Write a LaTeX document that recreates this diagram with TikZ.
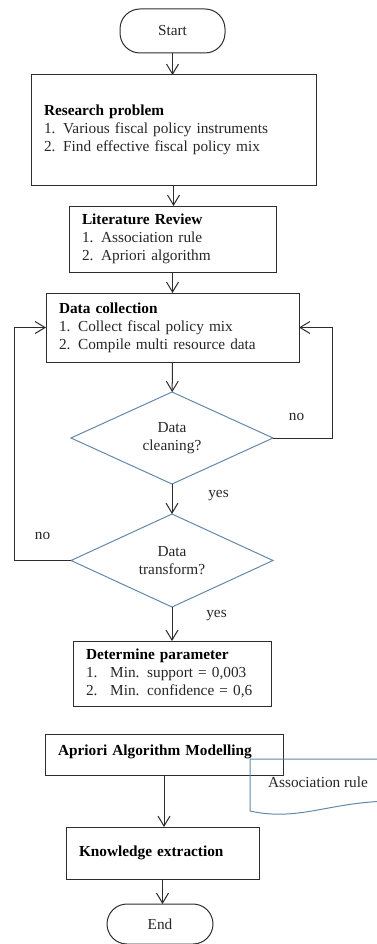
\documentclass[tikz,border=0pt]{standalone}
\usepackage{fontspec}
\setmainfont{Liberation Serif}
\usetikzlibrary{arrows.meta,positioning,shapes.geometric}
\definecolor{LineGray}{RGB}{45,45,45}
\definecolor{SteelBlue}{RGB}{100,136,170}

\begin{document}
\begin{tikzpicture} [x=1pt, y=1pt, >={Straight Barb[length=10pt,width=12pt]},
	   LineGray, text=black!85, line width=1pt,
	   every node/.style={font=\fontsize{15.3}{18}\selectfont, outer sep=0pt},
	   terminal/.style = {rectangle, rounded corners=20pt, draw,
	                      minimum width=105pt, minimum height=44pt},
	   stepbox/.style 2 args = {rectangle, draw, text width=#1, minimum height=#2,
	                            inner xsep=13pt, align=left},
	   decision/.style = {diamond, draw=SteelBlue, aspect=2.2, inner sep=0pt,
	                      minimum width=202pt, minimum height=92pt, align=center}]
	\useasboundingbox (0,0) rectangle (377,-944);
	%% Main steps
	\node [terminal] (start) at (172.5,-31) {Start};
	\node [stepbox={259pt}{110pt}, below=22pt of start, xshift=1pt] (research)
	      {\textbf{\color{black}Research problem}\\1. Various fiscal policy instruments\\2. Find effective fiscal policy mix};
	\node [stepbox={181pt}{66pt}, below=21pt of research, xshift=-1pt] (literature)
	      {\textbf{\color{black}Literature Review}\\1. Association rule\\2. Apriori algorithm};
	\node [stepbox={227pt}{69pt}, below=21pt of literature] (collection)
	      {\textbf{\color{black}Data collection}\\1. Collect fiscal policy mix\\2. Compile multi resource data};
	%% Decisions
	\node [decision, below=30pt of collection, xshift=-0.5pt] (cleaning) {Data\\cleaning?};
	\node [decision, minimum height=93pt, below=30pt of cleaning] (transform) {Data\\transform?};
	\node [stepbox={172pt}{65pt}, below=34pt of transform] (parameter)
	      {\textbf{\color{black}Determine parameter}\\1.~ Min. support = 0,003\\2.~ Min. confidence = 0,6};
	%% Modelling and output
	\node [stepbox={212pt}{41pt}, below=28pt of parameter, xshift=-8pt] (apriori)
	      {\textbf{\color{black}Apriori Algorithm Modelling}\rule[-8pt]{0pt}{8pt}};
	\node [stepbox={167pt}{52pt}, below=52pt of apriori, xshift=-1.5pt] (knowledge)
	      {\textbf{\color{black}Knowledge extraction}};
	\node [terminal, minimum width=106pt, minimum height=40pt, below=25pt of knowledge, xshift=-2.5pt] (end) {End};
	\node (assoc) at (318,-782) {Association rule};
	\begin{scope}
		\clip (0,0) rectangle (377,-944);
		\draw [SteelBlue] (250,-759) -- (395,-759) -- (395,-801)
		      .. controls (330,-801) and (300,-822) .. (250,-811) -- cycle;
	\end{scope}

	%% Simple paths
	\draw[->] (start.south) -- (start.south |- research.north);
	\draw[->] (research.south) -- (research.south |- literature.north);
	\draw[->] (literature) -- (collection);
	\draw[->] (collection) -- (cleaning);
	\draw[->] (cleaning) -- (transform)
	          node[pos=0.4, right=33pt] {yes};
	\draw[->] (transform) -- (parameter)
	          node[pos=0.25, right=31pt] {yes};
	\draw[->] (apriori.south) -- (apriori.south |- knowledge.north);
	\draw[->] (knowledge.south) -- (knowledge.south |- end.north);
	%% Loops back to data collection
	\draw[->] (cleaning.east) -- ++(59,0) node[pos=0.4, above=14pt] {no} |- (collection.east);
	\draw[->] (transform.west) -- ++(-57,0) node[midway, above=18pt] {no} |- (collection.west);
\end{tikzpicture}
\end{document}
